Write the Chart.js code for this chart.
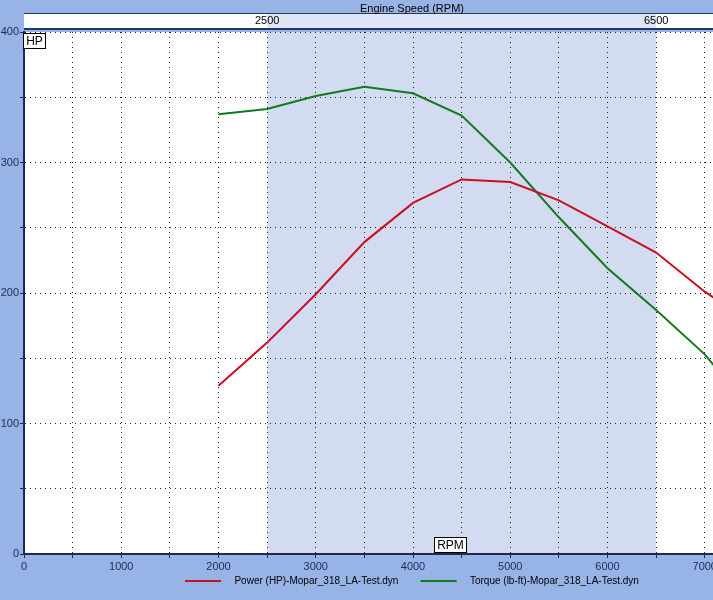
<!DOCTYPE html>
<html>
<head>
<meta charset="utf-8">
<title>Engine Speed (RPM)</title>
<script src="https://cdn.jsdelivr.net/npm/chart.js@4.4.1/dist/chart.umd.min.js"></script>
<style>
  html, body { margin: 0; padding: 0; overflow: hidden; background: #98b4e6; }
  #wrap { width: 824px; height: 600px; }
</style>
</head>
<body>
<div id="wrap"><canvas id="dynoChart" width="824" height="600"></canvas></div>
<script>
// rpm points where the dyno sampled
const rpm = [2000, 2500, 3000, 3500, 4000, 4500, 5000, 5500, 6000, 6500, 7000, 7500];
const powerHp = [129, 162, 199, 239, 269, 287, 285, 271, 251, 231, 201, 176];
const torqueLbFt = [337, 341, 351, 358, 353, 336, 300, 258, 219, 187, 153, 108];
// highlighted rpm window (shown on the top strip)
const rangeTicks = [2500, 6500];

const BG = "#98b4e6";
const INK = "#1c2a5a";
const FONT = "'Liberation Sans', Arial, sans-serif";

function toPoints(ys) {
  return rpm.map((x, i) => ({ x, y: ys[i] }));
}

/* ===========================
   BACKGROUND / DECORATIONS
=========================== */

const dynoDecor = {
  id: "dynoDecor",
  beforeDraw(chart) {
    const { ctx, chartArea: a, scales } = chart;
    const x = scales.x;
    const lo = x.getPixelForValue(rangeTicks[0]);
    const hi = x.getPixelForValue(rangeTicks[1]);
    ctx.save();
    ctx.fillStyle = BG;
    ctx.fillRect(0, 0, chart.width, chart.height);

    // plot area
    ctx.fillStyle = "#ffffff";
    ctx.fillRect(a.left, a.top, a.right - a.left, a.bottom - a.top);
    ctx.fillStyle = "#d2dbf0";
    ctx.fillRect(lo, a.top, hi - lo, a.bottom - a.top);

    // top strip with the rpm window
    ctx.fillStyle = "#ffffff";
    ctx.fillRect(a.left, 14, a.right - a.left, 15);
    ctx.fillStyle = "#dfe5f4";
    ctx.fillRect(lo, 14, hi - lo, 15);
    ctx.fillStyle = "#26365e";
    ctx.fillRect(a.left, 13, a.right - a.left, 1);
    ctx.fillRect(a.left, 28, a.right - a.left, 2);
    ctx.restore();
  },
  afterDraw(chart) {
    const { ctx, chartArea: a } = chart;
    ctx.save();
    ctx.font = "12px " + FONT;
    ctx.textBaseline = "middle";
    ctx.textAlign = "center";

    function tag(text, cx, cy) {
      const w = Math.round(ctx.measureText(text).width + 5);
      const left = Math.round(cx - w / 2) + 0.5;
      ctx.fillStyle = "#ffffff";
      ctx.fillRect(left, cy - 7.5, w, 15);
      ctx.strokeStyle = "#000000";
      ctx.lineWidth = 1;
      ctx.strokeRect(left, cy - 7.5, w, 15);
      ctx.fillStyle = "#000000";
      ctx.fillText(text, cx + 0.5, cy + 0.5);
    }
    tag("HP", a.left + 10, 41);
    tag("RPM", 450, 545);
    ctx.restore();
  }
};

/* ===========================
   CHART
=========================== */

const dottedGrid = {
  color: "#222222",
  lineWidth: 1,
  tickColor: INK,
  tickLength: 4
};

const axisBorder = { color: INK, width: 2, dash: [1, 4] };

// default legend items, with some spacing worked into the text
function legendItems(chart) {
  const items = Chart.defaults.plugins.legend.labels.generateLabels(chart);
  return items.map((it, i) => ({
    ...it,
    text: "   " + it.text + (i < items.length - 1 ? "        " : "")
  }));
}

new Chart(document.getElementById("dynoChart"), {
  type: "line",
  data: {
    datasets: [
      {
        label: "Power (HP)-Mopar_318_LA-Test.dyn",
        data: toPoints(powerHp),
        borderColor: "#c81020",
        backgroundColor: "#c81020",
        borderWidth: 2,
        pointRadius: 0,
        tension: 0
      },
      {
        label: "Torque (lb-ft)-Mopar_318_LA-Test.dyn",
        data: toPoints(torqueLbFt),
        borderColor: "#127a1c",
        backgroundColor: "#127a1c",
        borderWidth: 2,
        pointRadius: 0,
        tension: 0
      }
    ]
  },
  options: {
    responsive: false,
    animation: false,
    layout: { padding: { left: 0, right: 0, top: 0, bottom: 4 } },
    scales: {
      x: {
        type: "linear",
        position: "bottom",
        min: 0,
        max: 8000,
        afterBuildTicks: (s) => {
          const t = [];
          for (let v = 0; v <= 7500; v += 500) t.push({ value: v });
          s.ticks = t;
        },
        afterFit: (s) => { s.height = 600 - 4 - 554 - s.chart.legend.height; },
        grid: dottedGrid,
        border: axisBorder,
        ticks: {
          color: INK,
          font: { family: FONT, size: 11 },
          padding: 2,
          maxRotation: 0,
          autoSkip: false,
          callback: (v) => (v % 1000 === 0 ? String(v) : "")
        }
      },
      xTop: {
        type: "linear",
        position: "top",
        min: 0,
        max: 8000,
        afterBuildTicks: (s) => { s.ticks = rangeTicks.map((v) => ({ value: v })); },
        afterFit: (s) => { s.height = 32 - s.chart.titleBlock.height; },
        grid: { display: false, drawTicks: false },
        border: { display: false },
        ticks: {
          color: "#000000",
          font: { family: FONT, size: 11 },
          padding: 4,
          maxRotation: 0,
          autoSkip: false,
          callback: (v) => String(v)
        }
      },
      y: {
        min: 0,
        max: 400,
        afterFit: (s) => { s.width = 24; },
        grid: dottedGrid,
        border: axisBorder,
        ticks: {
          stepSize: 50,
          color: INK,
          font: { family: FONT, size: 11 },
          padding: 1,
          callback: (v) => (v % 100 === 0 ? String(v) : "")
        }
      },
      // empty right-hand axis that only keeps a margin after the plot
      yRight: {
        position: "right",
        min: 0,
        max: 400,
        afterFit: (s) => { s.width = 22; },
        grid: { display: false, drawTicks: false },
        border: { display: false },
        ticks: { display: false }
      }
    },
    plugins: {
      title: {
        display: true,
        text: "Engine Speed (RPM)",
        color: "#000000",
        font: { family: FONT, size: 11, weight: "normal" },
        padding: { top: 2, bottom: 0 }
      },
      legend: {
        position: "bottom",
        labels: {
          color: "#000000",
          font: { family: FONT, size: 10 },
          usePointStyle: true,
          pointStyle: "line",
          pointStyleWidth: 36,
          padding: 0,
          generateLabels: legendItems
        }
      },
      tooltip: { enabled: false }
    }
  },
  plugins: [dynoDecor]
});
</script>
</body>
</html>
